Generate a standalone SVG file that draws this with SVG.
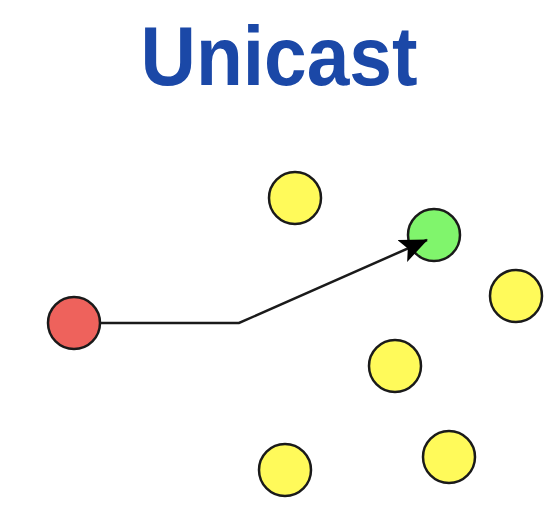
<svg xmlns="http://www.w3.org/2000/svg" width="558" height="522" viewBox="0 0 558 522">
<style>
.n{stroke:#1a1a1a;stroke-width:2.5}
.y{fill:#fffa5a}
.t{font-family:"Liberation Sans",Arial,sans-serif;font-weight:bold;fill:#1b48a7}
.c{fill:none;stroke:#1a1a1a;stroke-width:2.5}
</style>
<defs>
<marker id="ah2" markerWidth="28" markerHeight="24" refX="27" refY="12" orient="auto" markerUnits="userSpaceOnUse" viewBox="0 0 28 24">
<path d="M0,0 L28,12 L0,24 L6,12 Z" fill="#000"/>
</marker>
</defs>
<text class="t" x="279" y="85" font-size="84" text-anchor="middle" textLength="277" lengthAdjust="spacingAndGlyphs">Unicast</text>
<g id="source"><circle class="n" cx="74" cy="323" r="26" fill="#ee625c"/></g>
<g id="target"><circle class="n" cx="434" cy="235" r="26" fill="#80f56c"/></g>
<g id="node1"><circle class="n y" cx="295" cy="198" r="26"/></g>
<g id="node2"><circle class="n y" cx="516" cy="296" r="26"/></g>
<g id="node3"><circle class="n y" cx="395" cy="366" r="26"/></g>
<g id="node4"><circle class="n y" cx="285" cy="470" r="26"/></g>
<g id="node5"><circle class="n y" cx="449" cy="457" r="26"/></g>
<g id="connectors">
<path class="c" d="M101,323 L239,323 L427,240" marker-end="url(#ah2)"/>
</g>
</svg>
